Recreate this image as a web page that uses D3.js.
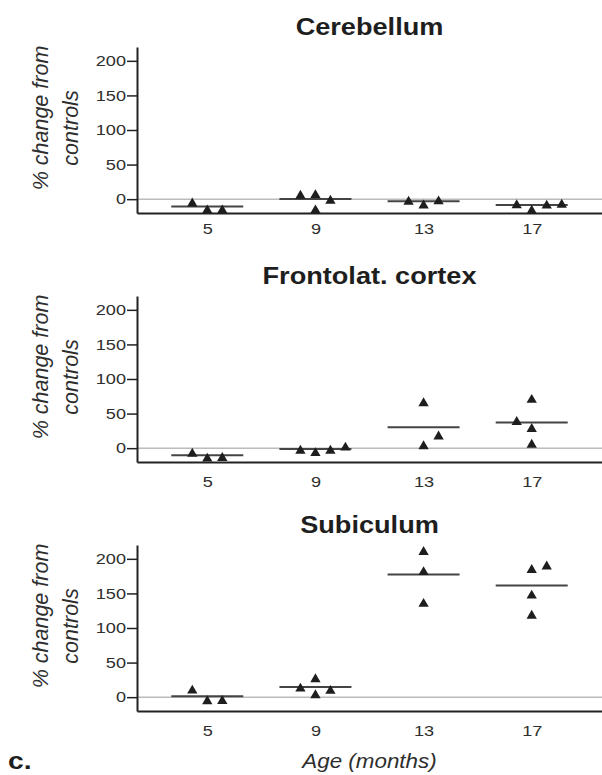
<!DOCTYPE html>
<html>
<head>
<meta charset="utf-8">
<script src="https://cdn.jsdelivr.net/npm/d3@7"></script>
<style>
  body { margin: 0; background: #fff; }
  svg { display: block; font-family: "Liberation Sans", Arial, sans-serif; }
</style>
</head>
<body>
<svg id="chart" width="602" height="775"></svg>
<script>
// ages (months) and y ticks
const ages = [5, 9, 13, 17];
const yTicks = [0, 50, 100, 150, 200];
const regions = ["Cerebellum", "Frontolat. cortex", "Subiculum"];

// % change from controls per animal, grouped by age.
// *Cols = which column of the dot plot the point sits in (-1 left, 0 centre, 1 right ...)
const cerebellumVals = [[-4, -14, -14], [7, 8, -14, 0], [-1.5, -7, -1], [-6.7, -14.5, -7.2, -6]];
const cerebellumCols = [[-1, 0, 1], [-1, 0, 0, 1], [-1, 0, 1], [-1, 0, 1, 2]];
const frontolatVals = [[-6, -13, -12], [-1.5, -5, -1.5, 3], [67, 19, 5], [72, 40, 30, 7]];
const frontolatCols = [[-1, 0, 1], [-1, 0, 1, 2], [0, 1, 0], [0, -1, 0, 0]];
const subiculumVals = [[11.6, -3.8, -3.5], [14.5, 28, 5, 11.3], [212, 183, 137], [186, 191, 149, 120]];
const subiculumCols = [[-1, 0, 1], [-1, 0, 0, 1], [0, 0, 0], [0, 1, 0, 0]];

const panels = [
  { title: regions[0], vals: cerebellumVals, cols: cerebellumCols },
  { title: regions[1], vals: frontolatVals, cols: frontolatCols },
  { title: regions[2], vals: subiculumVals, cols: subiculumCols },
];

const svg = d3.select("#chart");
const left = 137, right = 602;
const firstTop = 47, panelH = 166, panelStep = 249;
const colGap = 15, meanHalf = 36;
const ink = "#1e1e1e", textCol = "#2e2e2e";
// the original figure is a bit stretched sideways, so the lettering is too
const tickSx = 1.25, titleSx = 1.18, labelSx = 1.12;

const x = d3.scaleLinear().domain([2.4, 19.6]).range([left, right]);

// triangle centred on its bounding box (the dot plot's symbol)
const triUp = {
  draw(ctx, size) {
    const w = Math.sqrt(size * 4 / Math.sqrt(3));
    const h = w * Math.sqrt(3) / 2;
    ctx.moveTo(0, -h / 2);
    ctx.lineTo(w / 2, h / 2);
    ctx.lineTo(-w / 2, h / 2);
    ctx.closePath();
  }
};
const tri = d3.symbol().type(triUp).size(46);

panels.forEach((p, i) => {
  const top = firstTop + i * panelStep;
  const bottom = top + panelH;
  const y = d3.scaleLinear().domain([-20, 220]).range([bottom, top]);
  const g = svg.append("g");

  // title
  g.append("text")
    .attr("transform", `translate(${(left + right) / 2},${top - 12}) scale(${titleSx},1)`)
    .attr("text-anchor", "middle")
    .attr("font-size", 23)
    .attr("font-weight", "bold")
    .attr("fill", ink)
    .text(p.title);

  // y label (two lines, rotated)
  const mid = (top + bottom) / 2;
  [["% change from", 42, -12], ["controls", 72, -2]].forEach(([t, lx, dy]) => {
    g.append("text")
      .attr("transform", `translate(${lx},${mid + dy}) rotate(-90)`)
      .attr("text-anchor", "middle")
      .attr("dominant-baseline", "middle")
      .attr("font-size", 21.5)
      .attr("font-style", "italic")
      .attr("fill", textCol)
      .text(t);
  });

  // zero reference line
  g.append("line")
    .attr("x1", left).attr("x2", right)
    .attr("y1", y(0)).attr("y2", y(0))
    .attr("stroke", "#9a9a9a").attr("stroke-width", 1);

  // axes
  const ya = g.append("g")
    .attr("transform", `translate(${left},0)`)
    .call(d3.axisLeft(y).tickValues(yTicks).tickSize(10).tickSizeOuter(0).tickPadding(1));
  const xa = g.append("g")
    .attr("transform", `translate(0,${bottom})`)
    .call(d3.axisBottom(x).tickValues(ages).tickSize(0).tickSizeOuter(0).tickPadding(i === 0 ? 11 : 15));
  [ya, xa].forEach(a => {
    a.select(".domain").attr("stroke", "#222").attr("stroke-width", 2);
    a.selectAll(".tick line").attr("stroke", "#222").attr("stroke-width", 1.5);
    a.selectAll(".tick text").attr("font-size", 14.5).attr("fill", textCol)
      .attr("font-family", "Liberation Sans, Arial, sans-serif")
      .attr("transform", `scale(${tickSx},1)`);
  });
  ya.selectAll(".tick text").attr("x", -11 / tickSx);

  // group means
  g.selectAll(".mean")
    .data(ages.map((a, k) => ({ age: a, m: d3.mean(p.vals[k]) })))
    .join("line")
    .attr("class", "mean")
    .attr("x1", d => x(d.age) - meanHalf).attr("x2", d => x(d.age) + meanHalf)
    .attr("y1", d => y(d.m)).attr("y2", d => y(d.m))
    .attr("stroke", "#444").attr("stroke-width", 2);

  // individual animals
  const pts = ages.flatMap((a, k) => p.vals[k].map((v, j) => ({ age: a, v, c: p.cols[k][j] })));
  g.selectAll(".pt")
    .data(pts)
    .join("path")
    .attr("class", "pt")
    .attr("transform", d => `translate(${x(d.age) + d.c * colGap},${y(d.v)})`)
    .attr("d", tri)
    .attr("fill", ink);
});

// x title and panel letter
svg.append("text")
  .attr("transform", `translate(${(left + right) / 2},768) scale(${labelSx},1)`)
  .attr("text-anchor", "middle")
  .attr("font-size", 20).attr("font-style", "italic").attr("fill", textCol)
  .text("Age (months)");
svg.append("text")
  .attr("transform", `translate(8,769) scale(${titleSx},1)`)
  .attr("font-size", 24).attr("font-weight", "bold").attr("fill", ink)
  .text("c.");
</script>
</body>
</html>
